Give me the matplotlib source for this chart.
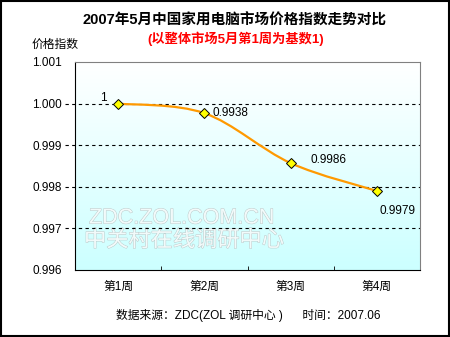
import numpy as np
import matplotlib.pyplot as plt
from matplotlib.path import Path
from matplotlib.patches import PathPatch, Rectangle
from matplotlib.colors import LinearSegmentedColormap
import matplotlib.patheffects as pe

plt.rcParams['font.family'] = ['Liberation Sans', 'Noto Sans CJK SC', 'DejaVu Sans']

# data
weeks = ['第1周', '第2周', '第3周', '第4周']
index_values = [1.0, 0.99977, 0.99857, 0.99790]
point_labels = ['1', '0.9938', '0.9986', '0.9979']
y_ticks = [0.996, 0.997, 0.998, 0.999, 1.000, 1.001]

fig = plt.figure(figsize=(4.5, 3.37), dpi=100)
ax = fig.add_axes([75 / 450, 1 - 270 / 337, 345 / 450, 208 / 337])

x = np.arange(len(weeks))
ax.set_xlim(-0.5, len(weeks) - 0.5)
ax.set_ylim(0.996, 1.001)

# gradient background
grad = np.linspace(0, 1, 256).reshape(-1, 1)
ax.imshow(grad, extent=[-0.5, len(weeks) - 0.5, 0.996, 1.001], aspect='auto',
          cmap=LinearSegmentedColormap.from_list('bg', ['#ccffff', '#ffffff']),
          origin='lower', zorder=0)

# watermark (under the grid)
wm = dict(color='#f2fafa', path_effects=[pe.withStroke(linewidth=0.7, foreground='#bccaca')],
          zorder=0.5, transform=fig.transFigure, ha='left', va='center')
ax.text(89 / 450, 1 - 218 / 337, 'ZDC.ZOL.COM.CN', fontsize=15.5, **wm)
ax.text(84 / 450, 1 - 241 / 337, '中关村在线调研中心', fontsize=16, **wm)

# dashed grid lines extending a little past the left axis
for yv in y_ticks[1:-1]:
    ax.plot([-0.62, len(weeks) - 0.5], [yv, yv], color='black', lw=0.8,
            ls=(0, (3, 3)), clip_on=False, zorder=1)

# smooth line (bezier through points)
pts = np.column_stack([x, index_values])
verts = [pts[0]]
codes = [Path.MOVETO]
for i in range(len(pts) - 1):
    p0 = pts[max(i - 1, 0)]
    p1 = pts[i]
    p2 = pts[i + 1]
    p3 = pts[min(i + 2, len(pts) - 1)]
    c1 = p1 + (p2 - p0) / 6
    c2 = p2 - (p3 - p1) / 6
    verts += [c1, c2, p2]
    codes += [Path.CURVE4] * 3
ax.add_patch(PathPatch(Path(verts, codes), fill=False, edgecolor='#ff9900', lw=1.6, zorder=3))

ax.plot(x, index_values, ls='none', marker='D', ms=5.5, mfc='#ffff00', mec='black', mew=0.7, zorder=4)

# point labels
offsets = [(-8, 0, 'right', 'bottom'), (6, 0, 'left', 'center'),
           (14, 2, 'left', 'center'), (2, -10, 'left', 'top')]
for xi, yi, lab, (dx, dy, ha, va) in zip(x, index_values, point_labels, offsets):
    ax.annotate(lab, (xi, yi), xytext=(dx, dy), textcoords='offset points',
                ha=ha, va=va, fontsize=8.5, zorder=5)

ax.set_xticks(x)
ax.set_xticklabels(weeks, fontsize=8.5)
ax.set_yticks(y_ticks)
ax.set_yticklabels(['%.3f' % v for v in y_ticks], fontsize=8.5)
ax.set_xticks(np.arange(len(weeks) + 1) - 0.5, minor=True)
ax.tick_params(axis='x', which='major', length=0, pad=8)
ax.tick_params(axis='x', which='minor', length=3, direction='in')
ax.tick_params(axis='y', length=0, pad=9.5)

for s in ['top', 'right']:
    ax.spines[s].set_color('#808080')
for s in ['left', 'bottom']:
    ax.spines[s].set_color('black')

fig.text(235 / 450, 1 - 21 / 337, '2007年5月中国家用电脑市场价格指数走势对比',
         ha='center', va='center', fontsize=10.5, fontweight='bold')
fig.text(236 / 450, 1 - 39 / 337, '(以整体市场5月第1周为基数1)',
         ha='center', va='center', fontsize=9.5, fontweight='bold', color='#ff0000')
fig.text(32 / 450, 1 - 45 / 337, '价格指数', ha='left', va='center', fontsize=8.5)
fig.text(248 / 450, 1 - 316 / 337, '数据来源：ZDC(ZOL 调研中心 )      时间：2007.06',
         ha='center', va='center', fontsize=8.5)

fig.add_artist(Rectangle((0.002, 0.003), 0.995, 0.994, transform=fig.transFigure,
                         fill=False, edgecolor='black', lw=1.5))

fig.savefig('out.png', dpi=100)
